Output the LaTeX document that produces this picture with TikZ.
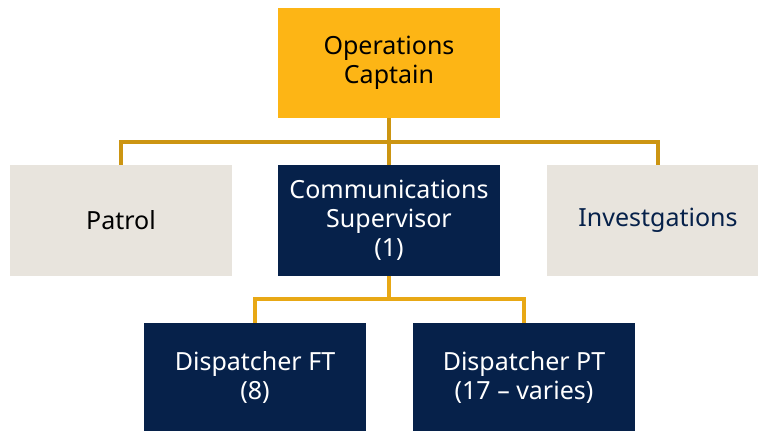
\documentclass[tikz,border=0pt]{standalone}
\usepackage{fontspec}
\setmainfont{Noto Sans}
\definecolor{gold}{HTML}{FDB515}
\definecolor{navy}{HTML}{06214A}
\definecolor{beige}{HTML}{E8E4DD}
\definecolor{lineA}{HTML}{CC9512}
\definecolor{lineB}{HTML}{E8A815}
\begin{document}
\begin{tikzpicture}[x=1pt,y=-1pt,
  box/.style={rectangle,minimum width=222pt,inner sep=0pt,align=center,
    font=\fontsize{25}{29}\selectfont},
  goldbox/.style={box,fill=gold,text=black,minimum height=110pt},
  navybox/.style={box,fill=navy,text=white},
  beigebox/.style={box,fill=beige},
  upline/.style={draw=lineA,line width=4pt},
  lowline/.style={draw=lineB,line width=3.5pt}]
\clip (0,0) rectangle (758,431);
\fill[white] (0,0) rectangle (758,431);
\node[goldbox] (top) at (389,63) {Operations\\Captain};
\node[beigebox,minimum height=111pt,text=black] (patrol) at (121,220.5) {Patrol};
\node[navybox,minimum height=111pt] (comm) at (389,220.5) {Communications\\Supervisor\\(1)};
\node[beigebox,minimum height=111pt,text=navy] (inv) at (658,220.5) {Investgations};
\node[navybox,minimum height=108pt] (ft) at (255,377) {Dispatcher FT\\(8)};
\node[navybox,minimum height=108pt] (pt) at (524,377) {Dispatcher PT\\(17 – varies)};
\coordinate (j1) at (389,142);
\coordinate (j2) at (389,299);
\draw[upline] (top.south) -- (j1);
\draw[upline] (j1) -| (patrol.north);
\draw[upline] (j1) -| (inv.north);
\draw[upline] (j1) -- (comm.north);
\draw[lowline] (comm.south) -- (j2);
\draw[lowline] (j2) -| (ft.north);
\draw[lowline] (j2) -| (pt.north);
\end{tikzpicture}
\end{document}
